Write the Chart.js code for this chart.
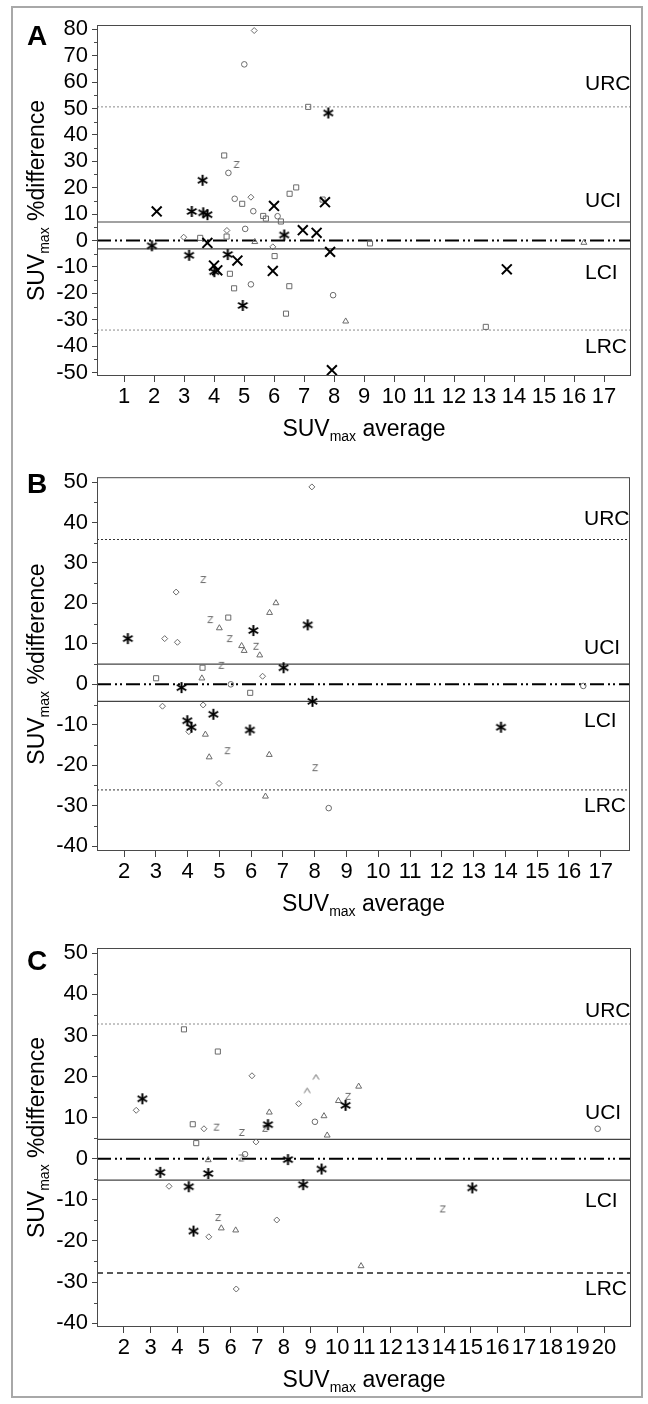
<!DOCTYPE html>
<html><head><meta charset="utf-8">
<script src="https://cdn.jsdelivr.net/npm/chart.js@4.4.1/dist/chart.umd.min.js"></script>
<style>
html,body{margin:0;padding:0;background:#fff;}
body{width:648px;height:1404px;position:relative;overflow:hidden;}
#frame{position:absolute;left:11px;top:6px;width:632px;height:1392px;border:2px solid #a8a8a8;box-sizing:border-box;}
canvas{position:absolute;left:0;}
</style></head><body>
<div id="frame"></div>
<canvas id="cA" width="648" height="460" style="top:0;width:648px;height:460px"></canvas>
<canvas id="cB" width="648" height="460" style="top:460px;width:648px;height:460px"></canvas>
<canvas id="cC" width="648" height="484" style="top:920px;width:648px;height:484px"></canvas>
<script>
// ---------------- DATA ----------------
// Panel A
const xTicksA = [1,2,3,4,5,6,7,8,9,10,11,12,13,14,15,16,17];
const yTicksA = [-50,-40,-30,-20,-10,0,10,20,30,40,50,60,70,80];
const refA = {URC:50.6, UCI:7.0, zero:0, LCI:-3.2, LRC:-33.9};
const A_cross_x = [2.09,3.78,4.00,4.11,4.78,5.96,6.00,6.96,7.42,7.70,7.87,7.93,13.76];
const A_cross_y = [11.0,-0.9,-9.5,-11.3,-7.6,-11.5,13.1,3.9,2.9,14.5,-4.3,-49.1,-10.9];
const A_star_x = [1.93,3.17,3.26,3.62,3.64,3.78,4.01,4.46,4.96,6.34,7.81];
const A_star_y = [-2.0,-5.6,11.0,22.8,10.5,9.8,-11.8,-5.3,-24.6,2.1,48.3];
const A_circle_x = [5.01,4.48,4.69,5.31,6.12,5.04,5.23,7.97];
const A_circle_y = [66.7,25.6,15.8,11.1,9.2,4.4,-16.6,-20.7];
const A_square_x = [7.14,4.34,4.94,6.52,6.74,7.62,5.64,5.73,6.23,3.54,4.42,6.02,4.53,4.67,6.51,6.40,9.20,13.06];
const A_square_y = [50.6,32.2,13.9,17.7,20.1,15.5,9.3,8.3,7.2,1.0,1.5,-5.9,-12.6,-18.1,-17.3,-27.7,-1.1,-32.7];
const A_diamond_x = [5.34,5.23,2.99,4.43,5.96];
const A_diamond_y = [79.5,16.4,1.25,3.8,-2.4];
const A_triangle_x = [5.36,16.33,8.39];
const A_triangle_y = [-0.5,-0.8,-30.6];
const A_z_x = [4.77];
const A_z_y = [28.8];

// Panel B
const xTicksB = [2,3,4,5,6,7,8,9,10,11,12,13,14,15,16,17];
const yTicksB = [-40,-30,-20,-10,0,10,20,30,40,50];
const refB = {URC:35.8, UCI:5.0, zero:0, LCI:-4.2, LRC:-26.1};
const B_star_x = [2.12,3.81,3.99,4.12,4.81,5.96,6.07,7.02,7.78,7.93,13.86];
const B_star_y = [11.3,-0.8,-9.0,-10.6,-7.4,-11.3,13.3,4.1,14.7,-4.2,-10.6];
const B_diamond_x = [7.91,3.64,3.28,3.68,6.36,3.21,4.49,4.04,4.99];
const B_diamond_y = [48.8,22.8,11.3,10.4,2.0,-5.4,-5.1,-11.7,-24.5];
const B_triangle_x = [6.78,6.58,5.00,5.70,5.78,6.27,4.45,4.56,4.68,6.57,6.45];
const B_triangle_y = [20.1,17.7,13.9,9.5,8.3,7.2,1.5,-12.4,-18.0,-17.4,-27.7];
const B_z_x = [4.51,4.73,5.34,6.17,5.08,5.27,8.03];
const B_z_y = [25.9,16.0,11.3,9.4,4.7,-16.4,-20.6];
const B_square_x = [5.28,4.47,3.01,5.97];
const B_square_y = [16.5,4.1,1.5,-2.1];
const B_circle_x = [5.36,8.44,16.45];
const B_circle_y = [0.0,-30.6,-0.4];

// Panel C
const xTicksC = [2,3,4,5,6,7,8,9,10,11,12,13,14,15,16,17,18,19,20];
const yTicksC = [-40,-30,-20,-10,0,10,20,30,40,50];
const refC = {URC:32.8, UCI:4.7, zero:0, LCI:-5.2, LRC:-27.8};
const C_star_x = [2.69,7.40,10.31,3.36,5.16,4.43,4.61,8.15,8.72,9.41,15.06];
const C_star_y = [14.6,8.3,13.0,-3.3,-3.6,-6.8,-17.6,-0.2,-6.3,-2.5,-7.1];
const C_square_x = [4.25,5.52,4.58,4.71];
const C_square_y = [31.5,26.1,8.4,3.8];
const C_diamond_x = [6.80,8.55,2.46,5.00,6.95,3.69,5.18,7.73,6.21];
const C_diamond_y = [20.2,13.4,11.8,7.3,4.1,-6.7,-19.0,-14.9,-31.7];
const C_caret_x = [9.20,8.87];
const C_caret_y = [19.9,16.6];
const C_triangle_x = [7.45,9.50,9.62,10.04,10.80,5.16,5.65,6.19,10.89];
const C_triangle_y = [11.3,10.4,5.7,14.1,17.6,-0.3,-16.9,-17.4,-26.1];
const C_z_x = [7.31,10.42,5.49,6.44,6.42,5.55,13.97];
const C_z_y = [7.4,15.2,7.7,6.4,0.2,-14.3,-12.2];
const C_circle_x = [9.16,6.54,19.76];
const C_circle_y = [9.0,1.1,7.3];

// ---------------- RENDERING ----------------
const FONT = "'Liberation Sans', Arial, Helvetica, sans-serif";
Chart.defaults.font.family = FONT;
const GREY = '#6a6a6a';

function mkCanvas(w,h,fn){const c=document.createElement('canvas');c.width=w;c.height=h;fn(c.getContext('2d'));return c;}
const asteriskImg = mkCanvas(13,13,g=>{g.strokeStyle='#000';g.lineWidth=2;const c=6.5,r=5.5;
  [90,30,150].forEach(a=>{const t=a*Math.PI/180;g.beginPath();g.moveTo(c-r*Math.cos(t),c-r*Math.sin(t));g.lineTo(c+r*Math.cos(t),c+r*Math.sin(t));g.stroke();});});
const zImg = mkCanvas(9,9,g=>{g.strokeStyle=GREY;g.lineWidth=1;g.beginPath();g.moveTo(1.5,1.5);g.lineTo(6.5,1.5);g.lineTo(1.5,7.5);g.lineTo(6.5,7.5);g.stroke();});
const caretImg = mkCanvas(9,8,g=>{g.strokeStyle=GREY;g.lineWidth=1;g.beginPath();g.moveTo(1.5,6.5);g.lineTo(4.5,1.5);g.lineTo(7.5,6.5);g.stroke();});

const pts = (xs,ys)=>xs.map((x,i)=>({x,y:ys[i]}));
const SYM = {
  cross:{pointStyle:'crossRot',pointRadius:7,borderWidth:2,borderColor:'#000'},
  star:{pointStyle:asteriskImg,pointRadius:5,borderWidth:0,borderColor:'#000'},
  circle:{pointStyle:'circle',pointRadius:2.8,borderWidth:1,borderColor:GREY},
  square:{pointStyle:'rect',pointRadius:3.6,borderWidth:1,borderColor:GREY},
  diamond:{pointStyle:'rectRot',pointRadius:3,borderWidth:1,borderColor:GREY},
  triangle:{pointStyle:'triangle',pointRadius:3.4,borderWidth:1,borderColor:GREY},
  z:{pointStyle:zImg,pointRadius:4,borderWidth:0,borderColor:GREY},
  caret:{pointStyle:caretImg,pointRadius:4,borderWidth:0,borderColor:GREY}
};
function ptSet(sym,xs,ys){return Object.assign({data:pts(xs,ys),backgroundColor:'rgba(0,0,0,0)',order:1},SYM[sym]);}
function refLine(v,xmin,xmax,style){return Object.assign({data:[{x:xmin,y:v},{x:xmax,y:v}],showLine:true,pointRadius:0,fill:false,order:10},style);}

function drawParts(ctx,parts,cx,baseY){
  let total=0;
  parts.forEach(p=>{ctx.font=p[1]+'px '+FONT;p.w=ctx.measureText(p[0]).width;total+=p.w;});
  let x=cx-total/2;
  parts.forEach(p=>{ctx.font=p[1]+'px '+FONT;ctx.fillText(p[0],x,baseY+p[2]);x+=p.w;});
}

const decor = {
  id:'decor',
  afterDraw(chart,args,o){
    const {ctx,chartArea:a,scales:{x,y}}=chart;
    ctx.save();
    ctx.strokeStyle='#4a4a4a';ctx.lineWidth=1;
    ctx.strokeRect(a.left+0.5,a.top+0.5,a.right-a.left-1,a.bottom-a.top-1);
    // minor y ticks
    ctx.beginPath();
    for(let v=Math.ceil(y.min/5)*5; v<=y.max; v+=5){
      if(v%10===0) continue;
      const py=Math.round(y.getPixelForValue(v))+0.5;
      ctx.moveTo(a.left-3,py);ctx.lineTo(a.left,py);
    }
    ctx.stroke();
    ctx.fillStyle='#000';ctx.textAlign='left';ctx.textBaseline='alphabetic';
    ctx.font='21px '+FONT;
    o.labels.forEach(l=>ctx.fillText(l[0],a.right-46,y.getPixelForValue(l[1])));
    ctx.font='bold 28px '+FONT;
    ctx.fillText(o.letter,27,o.letterY);
    // x title
    drawParts(ctx,[['SUV',23,0],['max',14,5],[' average',23,0]],(a.left+a.right)/2,a.bottom+60);
    // y title
    ctx.translate(44,(a.top+a.bottom)/2);ctx.rotate(-Math.PI/2);
    drawParts(ctx,[['SUV',23,0],['max',14,5],[' %difference',23,0]],0,0);
    ctx.restore();
  }
};

function makePanel(id,cfg){
  const H=document.getElementById(id).height;
  const ds=[...cfg.sets];
  const r=cfg.ref;
  ds.push(refLine(r.URC,cfg.xmin,cfg.xmax,cfg.urcStyle));
  ds.push(refLine(r.LRC,cfg.xmin,cfg.xmax,cfg.lrcStyle));
  ds.push(refLine(r.UCI,cfg.xmin,cfg.xmax,{borderColor:'#444',borderWidth:1.2}));
  ds.push(refLine(r.LCI,cfg.xmin,cfg.xmax,{borderColor:'#444',borderWidth:1.2}));
  ds.push(refLine(r.zero,cfg.xmin,cfg.xmax,{borderColor:'#000',borderWidth:2,borderDash:[14,4,2,3,2,4]}));
  new Chart(document.getElementById(id),{
    type:'scatter',
    data:{datasets:ds},
    options:{
      responsive:false,animation:false,
      layout:{padding:{top:cfg.top,right:cfg.right,left:0,bottom:0}},
      plugins:{legend:{display:false},tooltip:{enabled:false},
        decor:{labels:cfg.labels,letter:cfg.letter,letterY:cfg.letterY}},
      scales:{
        x:{type:'linear',min:cfg.xmin,max:cfg.xmax,
          afterBuildTicks:s=>{s.ticks=cfg.xTicks.map(v=>({value:v}));},
          afterFit:s=>{s.height=H-cfg.bottom;},
          ticks:{font:{size:22},color:'#000',padding:2,maxRotation:0,minRotation:0,autoSkip:false,callback:v=>String(v)},
          grid:{drawOnChartArea:false,drawTicks:true,tickLength:6,color:'#444'},
          border:{display:false}},
        y:{type:'linear',min:cfg.ymin,max:cfg.ymax,
          afterBuildTicks:s=>{s.ticks=cfg.yTicks.map(v=>({value:v}));},
          afterFit:s=>{s.width=97;},
          ticks:{font:{size:22},color:'#000',padding:4,autoSkip:false,callback:v=>String(v)},
          grid:{drawOnChartArea:false,drawTicks:true,tickLength:5,color:'#444'},
          border:{display:false}}
      }
    },
    plugins:[decor]
  });
}

const dotGrey={borderColor:'#8a8a8a',borderWidth:1,borderDash:[2,2]};
const dotDark={borderColor:'#333',borderWidth:1,borderDash:[2,2]};

makePanel('cA',{top:25,right:17,bottom:376,xmin:0.1,xmax:17.9,ymin:-51.3,ymax:81.6,
  xTicks:xTicksA,yTicks:yTicksA,ref:refA,urcStyle:dotGrey,lrcStyle:dotGrey,
  letter:'A',letterY:45,
  labels:[['URC',57.0],['UCI',12.7],['LCI',-14.6],['LRC',-42.6]],
  sets:[ptSet('cross',A_cross_x,A_cross_y),ptSet('star',A_star_x,A_star_y),ptSet('circle',A_circle_x,A_circle_y),
    ptSet('square',A_square_x,A_square_y),ptSet('diamond',A_diamond_x,A_diamond_y),ptSet('triangle',A_triangle_x,A_triangle_y),
    ptSet('z',A_z_x,A_z_y)]});

makePanel('cB',{top:14,right:18,bottom:391,xmin:1.15,xmax:17.92,ymin:-41.2,ymax:51.2,
  xTicks:xTicksB,yTicks:yTicksB,ref:refB,urcStyle:dotDark,lrcStyle:dotDark,
  letter:'B',letterY:33,
  labels:[['URC',39.5],['UCI',7.4],['LCI',-10.6],['LRC',-31.6]],
  sets:[ptSet('star',B_star_x,B_star_y),ptSet('diamond',B_diamond_x,B_diamond_y),ptSet('triangle',B_triangle_x,B_triangle_y),
    ptSet('z',B_z_x,B_z_y),ptSet('square',B_square_x,B_square_y),ptSet('circle',B_circle_x,B_circle_y)]});

makePanel('cC',{top:28,right:17,bottom:407,xmin:0.99,xmax:21.01,ymin:-40.95,ymax:51.3,
  xTicks:xTicksC,yTicks:yTicksC,ref:refC,urcStyle:dotGrey,lrcStyle:{borderColor:'#222',borderWidth:1.5,borderDash:[6,4]},
  letter:'C',letterY:50,
  labels:[['URC',34.5],['UCI',9.7],['LCI',-11.8],['LRC',-33.2]],
  sets:[ptSet('star',C_star_x,C_star_y),ptSet('square',C_square_x,C_square_y),ptSet('diamond',C_diamond_x,C_diamond_y),
    ptSet('caret',C_caret_x,C_caret_y),ptSet('triangle',C_triangle_x,C_triangle_y),ptSet('z',C_z_x,C_z_y),ptSet('circle',C_circle_x,C_circle_y)]});
</script>
</body></html>
